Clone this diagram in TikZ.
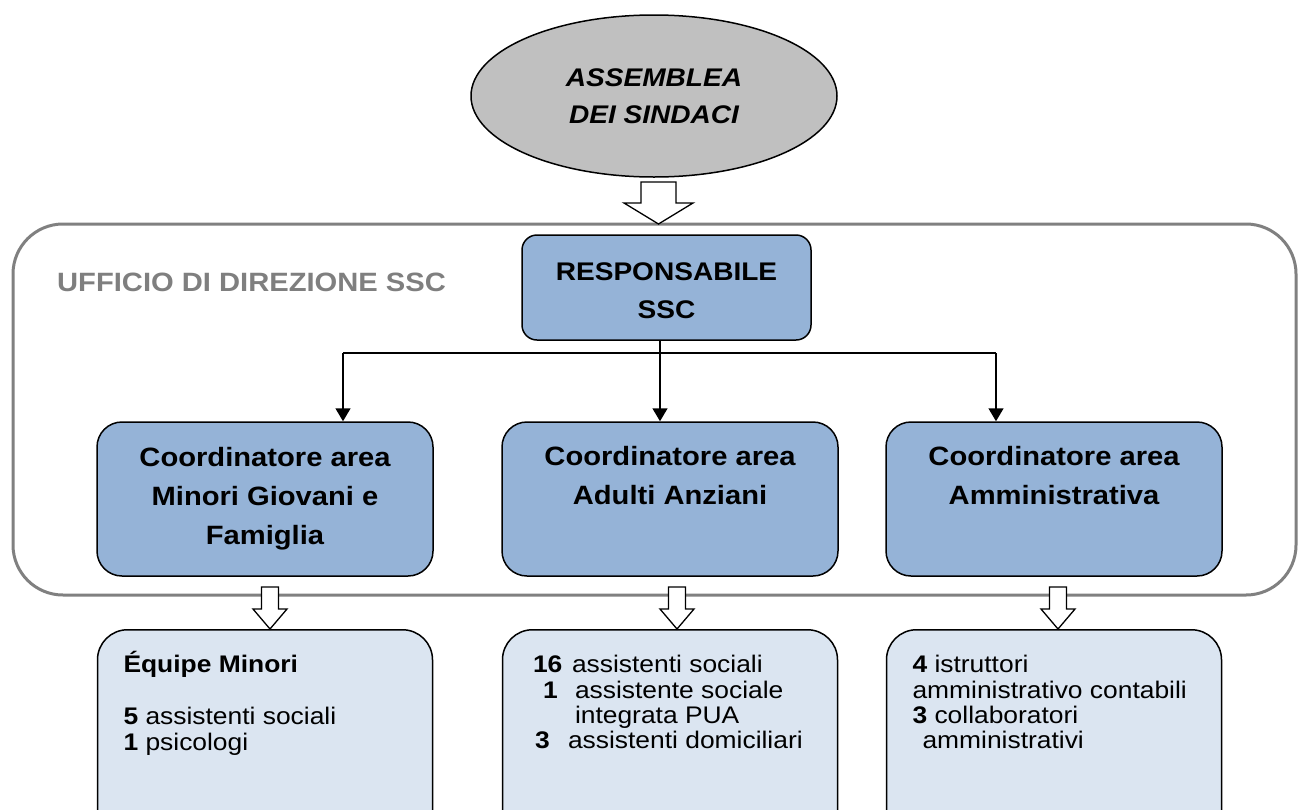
\documentclass[tikz,border=0pt]{standalone}
\usepackage{fontspec}
\setmainfont[FakeStretch=1.1]{Liberation Sans}
\usetikzlibrary{shapes.geometric,arrows.meta}
\definecolor{ellfill}{HTML}{C0C0C0}
\definecolor{blueA}{HTML}{95B3D7}
\definecolor{blueB}{HTML}{DBE5F1}
\definecolor{officegray}{HTML}{808080}
\definecolor{labelgray}{HTML}{7F7F7F}
\newcommand\hollowdown[6]{%
  \draw[hollowarr] ({#1-#5/2},#2) -- ({#1+#5/2},#2) -- ({#1+#5/2},#3) -- ({#1+#6/2},#3)
    -- (#1,#4) -- ({#1-#6/2},#3) -- ({#1-#5/2},#3) -- cycle;}
\newcommand\numrow[4]{\hspace*{#1pt}\makebox[\dimexpr#3pt-#1pt\relax][l]{\textbf{#2}}#4}
\begin{document}
\begin{tikzpicture}[x=1pt,y=-1pt,
  hollowarr/.style={draw=black, line width=1.3pt, fill=white, line join=miter},
  ellbox/.style={ellipse, draw=black, line width=1.5pt, fill=ellfill, inner sep=0pt,
    minimum width=366pt, minimum height=162pt, align=center,
    font=\fontsize{25.5}{37}\selectfont\bfseries\itshape},
  officebox/.style={draw=officegray, line width=3pt, rounded corners=50pt, inner sep=0pt},
  officelabel/.style={anchor=base west, inner sep=0pt, text=labelgray,
    font=\fontsize{26.5}{30}\selectfont\bfseries},
  respbox/.style={draw=black, line width=1.5pt, fill=blueA, rounded corners=15pt,
    minimum width=289pt, minimum height=105pt, inner sep=0pt, align=center,
    font=\fontsize{25.5}{38}\selectfont\bfseries},
  coordbox/.style={draw=black, line width=1.5pt, fill=blueA, rounded corners=25pt,
    minimum width=336pt, minimum height=154pt, inner sep=0pt, align=center,
    font=\fontsize{26.5}{39}\selectfont\bfseries},
  staffbox/.style={draw=black, line width=1.5pt, fill=blueB, rounded corners=30pt,
    anchor=north, inner xsep=26pt, inner ysep=21.5pt,
    font=\fontsize{24}{25.3}\selectfont},
  link/.style={draw=black, line width=1.5pt},
  linkarr/.style={link, -{Triangle[width=15pt,length=13pt]}}
]
\path[use as bounding box] (0,0) rectangle (1298,809);
\clip (0,0) rectangle (1298,809);

% top ellipse
\node[ellbox] (ell) at (654,96) {ASSEMBLEA\\DEI SINDACI};

% office container
\node[officebox, minimum width=1283pt, minimum height=371pt] (office) at (654.5,409.5) {};
\node[officelabel] (officelbl) at (57,291) {UFFICIO DI DIREZIONE SSC};

% responsabile
\node[respbox] (resp) at (666.5,287.5) {\rule{0pt}{24pt}RESPONSABILE\\SSC};

% coordinators
\node[coordbox] (cL) at (265,499) {Coordinatore area\\Minori Giovani e\\Famiglia};
\node[coordbox] (cM) at (670,499) {Coordinatore area\\Adulti Anziani\\[8pt]\mbox{}};
\node[coordbox] (cR) at (1054,499) {Coordinatore area\\Amministrativa\\[8pt]\mbox{}};

% staff boxes
\node[staffbox] (sL) at (265,629) {\parbox[c][184pt][t]{283pt}{\raggedright
  \rule{0pt}{21.5pt}\textbf{Équipe Minori}\\[1.5pt]
  \mbox{}\\
  \textbf{5} assistenti sociali\\
  \textbf{1} psicologi}};
\node[staffbox] (sM) at (670,629) {\parbox[c][184pt][t]{283pt}{\raggedright
  \rule{0pt}{21.5pt}\numrow{4.5}{16}{43.5}{assistenti sociali}\\
  \numrow{14.5}{1}{46.5}{assistente sociale}\\
  \hspace*{46.5pt}integrata PUA\\
  \numrow{6.5}{3}{39.5}{assistenti domiciliari}}};
\node[staffbox] (sR) at (1054,629) {\parbox[c][184pt][t]{283pt}{\raggedright
  \rule{0pt}{21.5pt}\textbf{4} istruttori\\
  amministrativo contabili\\
  \textbf{3} collaboratori\\
  \hspace*{10pt}amministrativi}};

% connectors
\coordinate (busL) at (343,353);
\coordinate (busM) at (660,353);
\coordinate (busR) at (996,353);
\draw[link] (resp.south -| busM) -- (busM);
\draw[link] (busL) -- (busR);
\draw[linkarr] (busL) -- (busL |- cL.north);
\draw[linkarr] (busM) -- (busM |- cM.north);
\draw[linkarr] (busR) -- (busR |- cR.north);

% hollow block arrows
\hollowdown{658.5}{182}{203}{224}{35}{69}
\hollowdown{270}{587}{609}{629}{17}{34}
\hollowdown{677}{587}{609}{629}{17}{34}
\hollowdown{1058}{587}{609}{629}{17}{34}
\end{tikzpicture}
\end{document}
